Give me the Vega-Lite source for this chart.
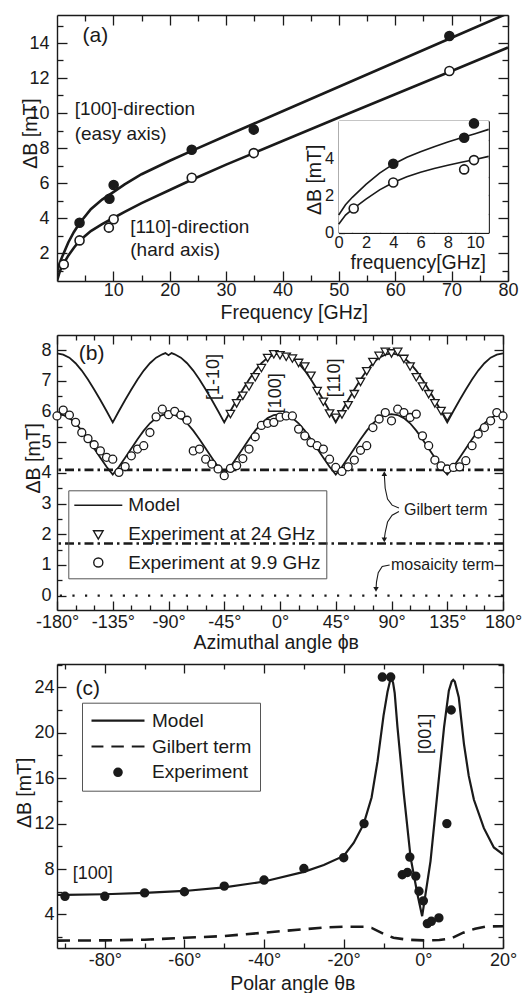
{
  "$schema": "https://vega.github.io/schema/vega-lite/v6.json",
  "padding": {"left": 14, "top": 14, "right": 0, "bottom": 0},
  "spacing": 11,
  "resolve": {"scale": {"shape": "independent", "fill": "independent"}, "legend": {"shape": "independent", "fill": "independent"}},
  "config": {
    "view": {"stroke": null},
    "font": "Liberation Sans",
    "axis": {"grid": false, "domainColor": "#1a1a1a", "domainWidth": 1.4, "tickColor": "#1a1a1a", "tickWidth": 1.3, "labelFont": "Liberation Sans", "labelFontSize": 18, "labelColor": "#1a1a1a", "labelFlush": false, "labelOverlap": false, "titleFont": "Liberation Sans", "titleFontSize": 19.5, "titleFontWeight": "normal", "titleColor": "#1a1a1a", "titleBaseline": "middle"},
    "legend": {"labelFont": "Liberation Sans", "labelFontSize": 19, "labelColor": "#1a1a1a", "strokeColor": "#555555", "labelLimit": 400},
    "text": {"font": "Liberation Sans", "color": "#1a1a1a"}
  },
  "datasets": {
    "curvesA": [
      {"f": 0, "u": 0.9, "l": 0.4}, {"f": 0.5, "u": 1.45, "l": 0.95}, {"f": 1, "u": 1.85, "l": 1.3}, {"f": 2, "u": 2.6, "l": 1.85},
      {"f": 3, "u": 3.2, "l": 2.3}, {"f": 4, "u": 3.7, "l": 2.7}, {"f": 6, "u": 4.5, "l": 3.25}, {"f": 8, "u": 5.05, "l": 3.65},
      {"f": 10, "u": 5.48, "l": 4.0}, {"f": 12, "u": 5.92, "l": 4.35}, {"f": 15, "u": 6.5, "l": 4.85}, {"f": 20, "u": 7.27, "l": 5.6},
      {"f": 24, "u": 7.85, "l": 6.2}, {"f": 30, "u": 8.7, "l": 7.05}, {"f": 35, "u": 9.4, "l": 7.72}, {"f": 40, "u": 10.1, "l": 8.4},
      {"f": 50, "u": 11.5, "l": 9.74}, {"f": 60, "u": 12.9, "l": 11.07}, {"f": 70, "u": 14.3, "l": 12.4}, {"f": 80, "u": 15.7, "l": 13.74}
    ],
    "ptsA": [
      {"f": 4.0, "dB": 3.73, "k": "filled"}, {"f": 9.3, "dB": 5.1, "k": "filled"}, {"f": 10.05, "dB": 5.89, "k": "filled"},
      {"f": 23.9, "dB": 7.9, "k": "filled"}, {"f": 34.9, "dB": 9.05, "k": "filled"}, {"f": 69.6, "dB": 14.4, "k": "filled"},
      {"f": 1.2, "dB": 1.35, "k": "open"}, {"f": 4.0, "dB": 2.72, "k": "open"}, {"f": 9.2, "dB": 3.45, "k": "open"},
      {"f": 10.05, "dB": 3.93, "k": "open"}, {"f": 23.9, "dB": 6.3, "k": "open"}, {"f": 34.9, "dB": 7.71, "k": "open"}, {"f": 69.6, "dB": 12.4, "k": "open"}
    ],
    "insetCurves": [
      {"f": 0, "u": 0.95, "l": 0.45}, {"f": 0.5, "u": 1.5, "l": 0.95}, {"f": 1, "u": 1.9, "l": 1.25}, {"f": 2, "u": 2.6, "l": 1.8},
      {"f": 3, "u": 3.2, "l": 2.3}, {"f": 4, "u": 3.68, "l": 2.7}, {"f": 5, "u": 4.05, "l": 3.0}, {"f": 6, "u": 4.35, "l": 3.25},
      {"f": 7, "u": 4.62, "l": 3.45}, {"f": 8, "u": 4.87, "l": 3.62}, {"f": 9, "u": 5.1, "l": 3.78}, {"f": 10, "u": 5.32, "l": 3.93}, {"f": 11, "u": 5.55, "l": 4.1}
    ],
    "insetPts": [
      {"f": 4.0, "dB": 3.7, "k": "filled"}, {"f": 9.2, "dB": 5.1, "k": "filled"}, {"f": 9.92, "dB": 5.87, "k": "filled"},
      {"f": 1.1, "dB": 1.3, "k": "open"}, {"f": 4.0, "dB": 2.7, "k": "open"}, {"f": 9.2, "dB": 3.4, "k": "open"}, {"f": 9.92, "dB": 3.9, "k": "open"}
    ],
    "modelB": [
      {"p": -180, "u": 7.9, "l": 5.92}, {"p": -175, "u": 7.86, "l": 5.89}, {"p": -170, "u": 7.76, "l": 5.79}, {"p": -165, "u": 7.58, "l": 5.62},
      {"p": -160, "u": 7.34, "l": 5.38}, {"p": -155, "u": 7.05, "l": 5.1}, {"p": -150, "u": 6.72, "l": 4.8}, {"p": -145, "u": 6.38, "l": 4.5},
      {"p": -140, "u": 6.02, "l": 4.2}, {"p": -135, "u": 5.65, "l": 3.95}, {"p": -130, "u": 6.02, "l": 4.2}, {"p": -125, "u": 6.38, "l": 4.5},
      {"p": -120, "u": 6.72, "l": 4.8}, {"p": -115, "u": 7.05, "l": 5.1}, {"p": -110, "u": 7.34, "l": 5.38}, {"p": -105, "u": 7.58, "l": 5.62},
      {"p": -100, "u": 7.76, "l": 5.79}, {"p": -95, "u": 7.87, "l": 5.89}, {"p": -92.5, "u": 7.91, "l": 5.91}, {"p": -90, "u": 7.84, "l": 5.92},
      {"p": -87.5, "u": 7.91, "l": 5.91}, {"p": -85, "u": 7.87, "l": 5.89}, {"p": -80, "u": 7.76, "l": 5.79}, {"p": -75, "u": 7.58, "l": 5.62},
      {"p": -70, "u": 7.34, "l": 5.38}, {"p": -65, "u": 7.05, "l": 5.1}, {"p": -60, "u": 6.72, "l": 4.8}, {"p": -55, "u": 6.38, "l": 4.5},
      {"p": -50, "u": 6.02, "l": 4.2}, {"p": -45, "u": 5.65, "l": 3.95}, {"p": -40, "u": 6.02, "l": 4.2}, {"p": -35, "u": 6.38, "l": 4.5},
      {"p": -30, "u": 6.72, "l": 4.8}, {"p": -25, "u": 7.05, "l": 5.1}, {"p": -20, "u": 7.34, "l": 5.38}, {"p": -15, "u": 7.58, "l": 5.62},
      {"p": -10, "u": 7.76, "l": 5.79}, {"p": -5, "u": 7.86, "l": 5.89}, {"p": 0, "u": 7.9, "l": 5.92}, {"p": 5, "u": 7.86, "l": 5.89},
      {"p": 10, "u": 7.76, "l": 5.79}, {"p": 15, "u": 7.58, "l": 5.62}, {"p": 20, "u": 7.34, "l": 5.38}, {"p": 25, "u": 7.05, "l": 5.1},
      {"p": 30, "u": 6.72, "l": 4.8}, {"p": 35, "u": 6.38, "l": 4.5}, {"p": 40, "u": 6.02, "l": 4.2}, {"p": 45, "u": 5.65, "l": 3.95},
      {"p": 50, "u": 6.02, "l": 4.2}, {"p": 55, "u": 6.38, "l": 4.5}, {"p": 60, "u": 6.72, "l": 4.8}, {"p": 65, "u": 7.05, "l": 5.1},
      {"p": 70, "u": 7.34, "l": 5.38}, {"p": 75, "u": 7.58, "l": 5.62}, {"p": 80, "u": 7.76, "l": 5.79}, {"p": 85, "u": 7.86, "l": 5.89},
      {"p": 90, "u": 7.9, "l": 5.92}, {"p": 95, "u": 7.86, "l": 5.89}, {"p": 100, "u": 7.76, "l": 5.79}, {"p": 105, "u": 7.58, "l": 5.62},
      {"p": 110, "u": 7.34, "l": 5.38}, {"p": 115, "u": 7.05, "l": 5.1}, {"p": 120, "u": 6.72, "l": 4.8}, {"p": 125, "u": 6.38, "l": 4.5},
      {"p": 130, "u": 6.02, "l": 4.2}, {"p": 135, "u": 5.65, "l": 3.95}, {"p": 140, "u": 6.02, "l": 4.2}, {"p": 145, "u": 6.38, "l": 4.5},
      {"p": 150, "u": 6.72, "l": 4.8}, {"p": 155, "u": 7.05, "l": 5.1}, {"p": 160, "u": 7.34, "l": 5.38}, {"p": 165, "u": 7.58, "l": 5.62},
      {"p": 170, "u": 7.76, "l": 5.79}, {"p": 175, "u": 7.86, "l": 5.89}, {"p": 180, "u": 7.9, "l": 5.92}
    ],
    "expB": [
      {"p": -40, "v": 5.95, "s": "24"}, {"p": -35, "v": 6.3, "s": "24"}, {"p": -30, "v": 6.55, "s": "24"}, {"p": -25, "v": 6.85, "s": "24"},
      {"p": -20, "v": 7.15, "s": "24"}, {"p": -15, "v": 7.45, "s": "24"}, {"p": -10, "v": 7.78, "s": "24"}, {"p": -5, "v": 7.9, "s": "24"},
      {"p": 0, "v": 7.87, "s": "24"}, {"p": 5, "v": 7.82, "s": "24"}, {"p": 10, "v": 7.76, "s": "24"}, {"p": 15, "v": 7.62, "s": "24"},
      {"p": 20, "v": 7.5, "s": "24"}, {"p": 25, "v": 7.2, "s": "24"}, {"p": 30, "v": 6.7, "s": "24"}, {"p": 35, "v": 6.35, "s": "24"},
      {"p": 40, "v": 5.97, "s": "24"}, {"p": 45, "v": 5.83, "s": "24"}, {"p": 50, "v": 5.94, "s": "24"}, {"p": 55, "v": 6.24, "s": "24"},
      {"p": 60, "v": 6.6, "s": "24"}, {"p": 65, "v": 7.0, "s": "24"}, {"p": 70, "v": 7.35, "s": "24"}, {"p": 75, "v": 7.65, "s": "24"},
      {"p": 80, "v": 7.85, "s": "24"}, {"p": 85, "v": 7.98, "s": "24"}, {"p": 90, "v": 7.93, "s": "24"}, {"p": 95, "v": 7.98, "s": "24"},
      {"p": 100, "v": 7.75, "s": "24"}, {"p": 105, "v": 7.5, "s": "24"}, {"p": 110, "v": 7.15, "s": "24"}, {"p": 115, "v": 6.85, "s": "24"},
      {"p": 120, "v": 6.6, "s": "24"}, {"p": 125, "v": 6.3, "s": "24"}, {"p": 130, "v": 6.05, "s": "24"}, {"p": 135, "v": 5.86, "s": "24"},
      {"p": -180, "v": 5.86, "s": "9.9"}, {"p": -175, "v": 6.05, "s": "9.9"}, {"p": -170, "v": 5.89, "s": "9.9"}, {"p": -165, "v": 5.65, "s": "9.9"},
      {"p": -160, "v": 5.32, "s": "9.9"}, {"p": -155, "v": 5.12, "s": "9.9"}, {"p": -150, "v": 4.92, "s": "9.9"}, {"p": -145, "v": 4.72, "s": "9.9"},
      {"p": -140, "v": 4.51, "s": "9.9"}, {"p": -135, "v": 4.45, "s": "9.9"}, {"p": -130, "v": 4.02, "s": "9.9"}, {"p": -125, "v": 4.21, "s": "9.9"},
      {"p": -120, "v": 4.56, "s": "9.9"}, {"p": -115, "v": 4.78, "s": "9.9"}, {"p": -110, "v": 4.89, "s": "9.9"}, {"p": -105, "v": 5.32, "s": "9.9"},
      {"p": -100, "v": 5.83, "s": "9.9"}, {"p": -95, "v": 6.08, "s": "9.9"}, {"p": -90, "v": 5.9, "s": "9.9"}, {"p": -85, "v": 6.01, "s": "9.9"},
      {"p": -80, "v": 5.89, "s": "9.9"}, {"p": -75, "v": 5.72, "s": "9.9"}, {"p": -70, "v": 4.72, "s": "9.9"}, {"p": -65, "v": 4.78, "s": "9.9"},
      {"p": -60, "v": 4.45, "s": "9.9"}, {"p": -55, "v": 4.29, "s": "9.9"}, {"p": -50, "v": 4.13, "s": "9.9"}, {"p": -45, "v": 3.91, "s": "9.9"},
      {"p": -40, "v": 4.15, "s": "9.9"}, {"p": -35, "v": 4.24, "s": "9.9"}, {"p": -30, "v": 4.47, "s": "9.9"}, {"p": -25, "v": 4.78, "s": "9.9"},
      {"p": -20, "v": 5.18, "s": "9.9"}, {"p": -15, "v": 5.55, "s": "9.9"}, {"p": -10, "v": 5.62, "s": "9.9"}, {"p": -5, "v": 5.65, "s": "9.9"},
      {"p": 0, "v": 5.82, "s": "9.9"}, {"p": 5, "v": 5.86, "s": "9.9"}, {"p": 10, "v": 5.86, "s": "9.9"}, {"p": 15, "v": 5.43, "s": "9.9"},
      {"p": 20, "v": 5.21, "s": "9.9"}, {"p": 25, "v": 4.99, "s": "9.9"}, {"p": 30, "v": 4.89, "s": "9.9"}, {"p": 35, "v": 4.78, "s": "9.9"},
      {"p": 40, "v": 4.45, "s": "9.9"}, {"p": 45, "v": 4.18, "s": "9.9"}, {"p": 50, "v": 4.05, "s": "9.9"}, {"p": 55, "v": 4.2, "s": "9.9"},
      {"p": 60, "v": 4.42, "s": "9.9"}, {"p": 65, "v": 4.74, "s": "9.9"}, {"p": 70, "v": 4.89, "s": "9.9"}, {"p": 75, "v": 5.48, "s": "9.9"},
      {"p": 80, "v": 5.76, "s": "9.9"}, {"p": 85, "v": 5.97, "s": "9.9"}, {"p": 90, "v": 5.7, "s": "9.9"}, {"p": 95, "v": 6.08, "s": "9.9"},
      {"p": 100, "v": 5.97, "s": "9.9"}, {"p": 105, "v": 5.81, "s": "9.9"}, {"p": 110, "v": 5.92, "s": "9.9"}, {"p": 115, "v": 5.21, "s": "9.9"},
      {"p": 120, "v": 4.89, "s": "9.9"}, {"p": 125, "v": 4.42, "s": "9.9"}, {"p": 130, "v": 4.23, "s": "9.9"}, {"p": 135, "v": 4.13, "s": "9.9"},
      {"p": 140, "v": 4.18, "s": "9.9"}, {"p": 145, "v": 4.2, "s": "9.9"}, {"p": 150, "v": 4.4, "s": "9.9"}, {"p": 155, "v": 4.89, "s": "9.9"},
      {"p": 160, "v": 5.27, "s": "9.9"}, {"p": 165, "v": 5.48, "s": "9.9"}, {"p": 170, "v": 5.7, "s": "9.9"}, {"p": 175, "v": 5.97, "s": "9.9"},
      {"p": 180, "v": 5.86, "s": "9.9"}
    ],
    "arrowsB": [
      {"a": 1, "p": 96, "v": 2.86}, {"a": 1, "p": 90.5, "v": 2.95}, {"a": 1, "p": 86.8, "v": 3.15}, {"a": 1, "p": 84.9, "v": 3.5}, {"a": 1, "p": 84.2, "v": 3.95},
      {"a": 2, "p": 96, "v": 2.74}, {"a": 2, "p": 90.5, "v": 2.62}, {"a": 2, "p": 86.8, "v": 2.4}, {"a": 2, "p": 84.9, "v": 2.05}, {"a": 2, "p": 84.2, "v": 1.85},
      {"a": 3, "p": 88.5, "v": 1.0}, {"a": 3, "p": 82.5, "v": 0.95}, {"a": 3, "p": 79.3, "v": 0.75}, {"a": 3, "p": 77.9, "v": 0.45}, {"a": 3, "p": 77.5, "v": 0.22}
    ],
    "modelC": [
      {"t": -92, "v": 5.72, "s": "m"}, {"t": -90, "v": 5.72, "s": "m"}, {"t": -80, "v": 5.78, "s": "m"}, {"t": -70, "v": 5.9, "s": "m"},
      {"t": -60, "v": 6.07, "s": "m"}, {"t": -50, "v": 6.38, "s": "m"}, {"t": -40, "v": 6.9, "s": "m"}, {"t": -30, "v": 7.75, "s": "m"},
      {"t": -25, "v": 8.35, "s": "m"}, {"t": -20, "v": 9.15, "s": "m"}, {"t": -17.5, "v": 10.3, "s": "m"}, {"t": -15, "v": 11.95, "s": "m"},
      {"t": -13, "v": 14.3, "s": "m"}, {"t": -11.5, "v": 17.5, "s": "m"}, {"t": -10, "v": 21.5, "s": "m"}, {"t": -9, "v": 23.6, "s": "m"},
      {"t": -8.4, "v": 24.5, "s": "m"}, {"t": -8, "v": 24.75, "s": "m"}, {"t": -7.6, "v": 24.4, "s": "m"}, {"t": -7.2, "v": 23.5, "s": "m"},
      {"t": -6.5, "v": 20.5, "s": "m"}, {"t": -4.9, "v": 14.6, "s": "m"}, {"t": -3.2, "v": 9.0, "s": "m"}, {"t": -1.5, "v": 5.8, "s": "m"},
      {"t": -0.3, "v": 3.85, "s": "m"}, {"t": 1.8, "v": 8.7, "s": "m"}, {"t": 3.5, "v": 14.6, "s": "m"}, {"t": 5.2, "v": 20.5, "s": "m"},
      {"t": 6.4, "v": 23.7, "s": "m"}, {"t": 7.1, "v": 24.5, "s": "m"}, {"t": 7.5, "v": 24.65, "s": "m"}, {"t": 7.9, "v": 24.5, "s": "m"},
      {"t": 8.9, "v": 23.1, "s": "m"}, {"t": 10.2, "v": 19.0, "s": "m"}, {"t": 11.4, "v": 16.2, "s": "m"}, {"t": 12.7, "v": 14.1, "s": "m"},
      {"t": 15.2, "v": 11.6, "s": "m"}, {"t": 17.7, "v": 9.9, "s": "m"}, {"t": 20, "v": 9.3, "s": "m"},
      {"t": -92, "v": 1.7, "s": "g"}, {"t": -80, "v": 1.72, "s": "g"}, {"t": -70, "v": 1.78, "s": "g"}, {"t": -60, "v": 1.95, "s": "g"},
      {"t": -50, "v": 2.1, "s": "g"}, {"t": -40, "v": 2.4, "s": "g"}, {"t": -30, "v": 2.7, "s": "g"}, {"t": -25, "v": 2.85, "s": "g"},
      {"t": -20, "v": 2.92, "s": "g"}, {"t": -15, "v": 2.92, "s": "g"}, {"t": -13, "v": 2.82, "s": "g"}, {"t": -10, "v": 2.3, "s": "g"},
      {"t": -7.5, "v": 1.95, "s": "g"}, {"t": -4, "v": 1.78, "s": "g"}, {"t": 0, "v": 1.72, "s": "g"}, {"t": 4, "v": 1.75, "s": "g"},
      {"t": 7, "v": 1.9, "s": "g"}, {"t": 10, "v": 2.4, "s": "g"}, {"t": 13, "v": 2.75, "s": "g"}, {"t": 16, "v": 2.95, "s": "g"}, {"t": 20, "v": 2.97, "s": "g"}
    ],
    "expC": [
      {"t": -90, "v": 5.6, "c": "Experiment"}, {"t": -80, "v": 5.6, "c": "Experiment"}, {"t": -70, "v": 5.9, "c": "Experiment"},
      {"t": -60, "v": 6.0, "c": "Experiment"}, {"t": -50, "v": 6.5, "c": "Experiment"}, {"t": -40, "v": 7.03, "c": "Experiment"},
      {"t": -30, "v": 8.05, "c": "Experiment"}, {"t": -20, "v": 9.0, "c": "Experiment"}, {"t": -14.9, "v": 12.0, "c": "Experiment"},
      {"t": -10.3, "v": 24.9, "c": "Experiment"}, {"t": -8.2, "v": 24.9, "c": "Experiment"}, {"t": -5.3, "v": 7.5, "c": "Experiment"},
      {"t": -4.0, "v": 7.7, "c": "Experiment"}, {"t": -3.4, "v": 9.05, "c": "Experiment"}, {"t": -1.9, "v": 7.38, "c": "Experiment"},
      {"t": -1.1, "v": 6.05, "c": "Experiment"}, {"t": 0, "v": 5.2, "c": "Experiment"}, {"t": 1.0, "v": 3.2, "c": "Experiment"},
      {"t": 2.0, "v": 3.4, "c": "Experiment"}, {"t": 3.9, "v": 3.7, "c": "Experiment"}, {"t": 5.9, "v": 12.0, "c": "Experiment"},
      {"t": 7.0, "v": 22.0, "c": "Experiment"}
    ]
  },
  "vconcat": [
    {
      "width": 451,
      "height": 266,
      "layer": [
        {
          "layer": [
            {
              "data": {"name": "curvesA"},
              "transform": [{"fold": ["u", "l"], "as": ["s", "dB"]}],
              "mark": {"type": "line", "color": "#1a1a1a", "strokeWidth": 2.6, "clip": true},
              "encoding": {
                "x": {"field": "f", "type": "quantitative", "scale": {"domain": [0, 80], "nice": false, "zero": false},
                  "axis": {"orient": "bottom", "values": [10, 20, 30, 40, 50, 60, 70, 80], "tickSize": -10, "labelPadding": 10, "title": "Frequency [GHz]", "titleX": 236.7, "titleY": 31.7}},
                "y": {"field": "dB", "type": "quantitative", "scale": {"domain": [0.4, 15.6], "nice": false, "zero": false},
                  "axis": {"orient": "left", "values": [2, 4, 6, 8, 10, 12, 14], "tickSize": -10, "labelPadding": 18, "title": "ΔB [mT]", "titleX": -27, "titleY": 118}},
                "detail": {"field": "s"}
              }
            },
            {
              "data": {"name": "ptsA"},
              "mark": {"type": "point", "shape": "circle", "filled": true, "size": 81, "opacity": 1, "stroke": "#1a1a1a", "strokeWidth": 1.6},
              "encoding": {
                "x": {"field": "f", "type": "quantitative", "axis": null},
                "y": {"field": "dB", "type": "quantitative", "axis": null},
                "fill": {"field": "k", "type": "nominal", "scale": {"domain": ["filled", "open"], "range": ["#1a1a1a", "#ffffff"]}, "legend": null}
              }
            },
            {"data": {"values": [{}]}, "mark": {"type": "text", "text": "(a)", "fontSize": 21, "align": "center", "baseline": "middle"},
              "encoding": {"x": {"datum": 6.8, "type": "quantitative", "axis": null}, "y": {"datum": 14.4, "type": "quantitative", "axis": null}}},
            {"data": {"values": [{}]}, "mark": {"type": "text", "text": "[100]-direction", "fontSize": 19, "align": "left", "baseline": "middle"},
              "encoding": {"x": {"datum": 3.14, "type": "quantitative", "axis": null}, "y": {"datum": 10.23, "type": "quantitative", "axis": null}}},
            {"data": {"values": [{}]}, "mark": {"type": "text", "text": "(easy axis)", "fontSize": 19, "align": "left", "baseline": "middle"},
              "encoding": {"x": {"datum": 3.14, "type": "quantitative", "axis": null}, "y": {"datum": 8.82, "type": "quantitative", "axis": null}}},
            {"data": {"values": [{}]}, "mark": {"type": "text", "text": "[110]-direction", "fontSize": 19, "align": "left", "baseline": "middle"},
              "encoding": {"x": {"datum": 13.0, "type": "quantitative", "axis": null}, "y": {"datum": 3.49, "type": "quantitative", "axis": null}}},
            {"data": {"values": [{}]}, "mark": {"type": "text", "text": "(hard axis)", "fontSize": 19, "align": "left", "baseline": "middle"},
              "encoding": {"x": {"datum": 13.0, "type": "quantitative", "axis": null}, "y": {"datum": 2.16, "type": "quantitative", "axis": null}}},
            {
              "data": {"values": []},
              "mark": "point",
              "encoding": {
                "x": {"field": "f", "type": "quantitative", "axis": {"orient": "top", "values": [10, 20, 30, 40, 50, 60, 70, 80], "tickSize": -10, "labels": false, "title": null}},
                "y": {"field": "dB", "type": "quantitative", "axis": {"orient": "right", "values": [2, 4, 6, 8, 10, 12, 14], "tickSize": -10, "labels": false, "title": null}}
              }
            },
            {
              "data": {"values": []},
              "mark": "point",
              "encoding": {
                "x": {"field": "f", "type": "quantitative", "axis": {"orient": "bottom", "values": [5, 15, 25, 35, 45, 55, 65, 75], "tickSize": -6, "labels": false, "domain": false, "title": null}},
                "y": {"field": "dB", "type": "quantitative", "axis": {"orient": "left", "values": [1, 3, 5, 7, 9, 11, 13, 15], "tickSize": -6, "labels": false, "domain": false, "title": null}}
              }
            },
            {
              "data": {"values": []},
              "mark": "point",
              "encoding": {
                "x": {"field": "f", "type": "quantitative", "axis": {"orient": "top", "values": [5, 15, 25, 35, 45, 55, 65, 75], "tickSize": -6, "labels": false, "domain": false, "title": null}},
                "y": {"field": "dB", "type": "quantitative", "axis": {"orient": "right", "values": [1, 3, 5, 7, 9, 11, 13, 15], "tickSize": -6, "labels": false, "domain": false, "title": null}}
              }
            }
          ],
          "resolve": {"axis": {"x": "independent", "y": "independent"}}
        },
        {
          "layer": [
            {"data": {"values": [{}]}, "mark": {"type": "rect", "fill": "#ffffff"},
              "encoding": {
                "x": {"datum": 0, "type": "quantitative", "axis": null, "scale": {"domain": [0, 11], "range": [281.7, 431.7], "nice": false, "zero": false}},
                "x2": {"datum": 11},
                "y": {"datum": 0, "type": "quantitative", "axis": null, "scale": {"domain": [0, 6], "range": [217.7, 106], "nice": false, "zero": false}},
                "y2": {"datum": 6}
              }},
            {
              "data": {"name": "insetCurves"},
              "transform": [{"fold": ["u", "l"], "as": ["s", "dB"]}],
              "mark": {"type": "line", "color": "#1a1a1a", "strokeWidth": 1.6, "clip": false},
              "encoding": {
                "x": {"field": "f", "type": "quantitative",
                  "axis": {"orient": "bottom", "offset": -48.3, "values": [0, 2, 4, 6, 8, 10], "tickSize": -6, "labelPadding": 7.5, "labelFontSize": 16.5, "title": "frequency[GHz]", "titleX": 360.8, "titleY": 30}},
                "y": {"field": "dB", "type": "quantitative",
                  "axis": {"orient": "left", "offset": -281.7, "values": [0, 2, 4], "tickSize": -6, "labelPadding": 11, "labelFontSize": 16.5, "title": "ΔB [mT]", "titleX": -24.2, "titleY": 164.3}},
                "detail": {"field": "s"}
              }
            },
            {
              "data": {"name": "insetPts"},
              "mark": {"type": "point", "shape": "circle", "filled": true, "size": 81, "opacity": 1, "stroke": "#1a1a1a", "strokeWidth": 1.6},
              "encoding": {
                "x": {"field": "f", "type": "quantitative", "axis": null},
                "y": {"field": "dB", "type": "quantitative", "axis": null},
                "fill": {"field": "k", "type": "nominal", "scale": {"domain": ["filled", "open"], "range": ["#1a1a1a", "#ffffff"]}, "legend": null}
              }
            },
            {
              "data": {"values": []},
              "mark": "point",
              "encoding": {
                "x": {"field": "f", "type": "quantitative", "axis": {"orient": "top", "offset": -106, "values": [2, 4, 6, 8, 10], "tickSize": -6, "labels": false, "title": null}},
                "y": {"field": "dB", "type": "quantitative", "axis": {"orient": "right", "offset": -19.3, "values": [2, 4], "tickSize": -6, "labels": false, "title": null}}
              }
            },
            {
              "data": {"values": []},
              "mark": "point",
              "encoding": {
                "x": {"field": "f", "type": "quantitative", "axis": {"orient": "bottom", "offset": -48.3, "values": [1, 3, 5, 7, 9], "tickSize": -4, "labels": false, "domain": false, "title": null}},
                "y": {"field": "dB", "type": "quantitative", "axis": {"orient": "left", "offset": -281.7, "values": [1, 3, 5], "tickSize": -4, "labels": false, "domain": false, "title": null}}
              }
            },
            {
              "data": {"values": []},
              "mark": "point",
              "encoding": {
                "x": {"field": "f", "type": "quantitative", "axis": {"orient": "top", "offset": -106, "values": [1, 3, 5, 7, 9], "tickSize": -4, "labels": false, "domain": false, "title": null}},
                "y": {"field": "dB", "type": "quantitative", "axis": {"orient": "right", "offset": -19.3, "values": [1, 3, 5], "tickSize": -4, "labels": false, "domain": false, "title": null}}
              }
            }
          ],
          "resolve": {"axis": {"x": "independent", "y": "independent"}}
        }
      ],
      "resolve": {"scale": {"x": "independent", "y": "independent"}, "axis": {"x": "independent", "y": "independent"}}
    },
    {
      "width": 446,
      "height": 275,
      "layer": [
        {
          "data": {"name": "modelB"},
          "transform": [{"fold": ["u", "l"], "as": ["s", "v"]}],
          "mark": {"type": "line", "color": "#1a1a1a", "strokeWidth": 1.8},
          "encoding": {
            "x": {"field": "p", "type": "quantitative", "scale": {"domain": [-180, 180], "nice": false, "zero": false},
              "axis": {"orient": "bottom", "values": [-180, -135, -90, -45, 0, 45, 90, 135, 180], "labelExpr": "datum.value + '°'", "tickSize": -9, "labelPadding": 12.5, "title": "Azimuthal angle ϕʙ", "titleX": 218.7, "titleY": 32.4}},
            "y": {"field": "v", "type": "quantitative", "scale": {"domain": [-0.47, 8.5], "nice": false, "zero": false},
              "axis": {"orient": "left", "values": [0, 1, 2, 3, 4, 5, 6, 7, 8], "tickSize": -9, "labelPadding": 15, "title": "ΔB [mT]", "titleX": -23.5, "titleY": 122.7}},
            "detail": {"field": "s"}
          }
        },
        {"data": {"values": [{}]}, "mark": {"type": "rule", "color": "#1a1a1a", "strokeWidth": 2.6, "strokeDash": [9, 4, 2.5, 4]},
          "encoding": {"y": {"datum": 4.1, "type": "quantitative", "axis": null}}},
        {"data": {"values": [{}]}, "mark": {"type": "rule", "color": "#1a1a1a", "strokeWidth": 2.6, "strokeDash": [9, 4, 2.5, 4]},
          "encoding": {"y": {"datum": 1.7, "type": "quantitative", "axis": null}}},
        {"data": {"values": [{}]}, "mark": {"type": "rule", "color": "#1a1a1a", "strokeWidth": 2.2, "strokeDash": [2.2, 10.4]},
          "encoding": {"y": {"datum": 0, "type": "quantitative", "axis": null}}},
        {
          "data": {"name": "expB"},
          "mark": {"type": "point", "filled": false, "color": "#1a1a1a", "fill": "#ffffff", "stroke": "#1a1a1a", "strokeWidth": 1.3, "size": 1764, "opacity": 1},
          "encoding": {
            "x": {"field": "p", "type": "quantitative", "axis": null},
            "y": {"field": "v", "type": "quantitative", "axis": null},
            "shape": {"field": "s", "type": "nominal",
              "scale": {"domain": ["Model", "24", "9.9"], "range": ["M-1,0H1", "M-0.2,-0.13H0.2L0,0.22Z", "M-0.19,0A0.19,0.19,0,1,0,0.19,0A0.19,0.19,0,1,0,-0.19,0Z"]},
              "legend": {"title": null, "orient": "none", "legendX": 11.3, "legendY": 155.3, "symbolSize": 2304, "symbolStrokeWidth": 1.4, "clipHeight": 20, "rowPadding": 8.6, "labelOffset": 5, "padding": 5, "strokeColor": "#555555", "labelFontSize": 19, "labelLimit": 400,
                "labelExpr": "datum.label == '24' ? 'Experiment at 24  GHz' : (datum.label == '9.9' ? 'Experiment at 9.9 GHz' : datum.label)",
                "encode": {"symbols": {"stroke": {"value": "#1a1a1a"}, "strokeWidth": {"value": 1.4}, "fill": {"value": "#ffffff"}}}}}
          }
        },
        {
          "data": {"name": "arrowsB"},
          "mark": {"type": "line", "color": "#1a1a1a", "strokeWidth": 1.1},
          "encoding": {
            "x": {"field": "p", "type": "quantitative", "axis": null},
            "y": {"field": "v", "type": "quantitative", "axis": null},
            "detail": {"field": "a"}
          }
        },
        {"data": {"values": [{}]}, "mark": {"type": "point", "shape": "triangle-up", "filled": true, "color": "#1a1a1a", "size": 30, "opacity": 1},
          "encoding": {"x": {"datum": 84.2, "type": "quantitative", "axis": null}, "y": {"datum": 3.98, "type": "quantitative", "axis": null}}},
        {"data": {"values": [{}]}, "mark": {"type": "point", "shape": "triangle-down", "filled": true, "color": "#1a1a1a", "size": 30, "opacity": 1},
          "encoding": {"x": {"datum": 84.2, "type": "quantitative", "axis": null}, "y": {"datum": 1.82, "type": "quantitative", "axis": null}}},
        {"data": {"values": [{}]}, "mark": {"type": "point", "shape": "triangle-down", "filled": true, "color": "#1a1a1a", "size": 30, "opacity": 1},
          "encoding": {"x": {"datum": 77.5, "type": "quantitative", "axis": null}, "y": {"datum": 0.2, "type": "quantitative", "axis": null}}},
        {"data": {"values": [{}]}, "mark": {"type": "text", "text": "(b)", "fontSize": 21, "align": "center", "baseline": "middle"},
          "encoding": {"x": {"datum": -152, "type": "quantitative", "axis": null}, "y": {"datum": 7.87, "type": "quantitative", "axis": null}}},
        {"data": {"values": [{}]}, "mark": {"type": "text", "text": "[1-10]", "fontSize": 18, "angle": 270, "align": "center", "baseline": "middle"},
          "encoding": {"x": {"datum": -53, "type": "quantitative", "axis": null}, "y": {"datum": 7.13, "type": "quantitative", "axis": null}}},
        {"data": {"values": [{}]}, "mark": {"type": "text", "text": "[100]", "fontSize": 18, "angle": 270, "align": "center", "baseline": "middle"},
          "encoding": {"x": {"datum": -3.2, "type": "quantitative", "axis": null}, "y": {"datum": 6.6, "type": "quantitative", "axis": null}}},
        {"data": {"values": [{}]}, "mark": {"type": "text", "text": "[110]", "fontSize": 18, "angle": 270, "align": "center", "baseline": "middle"},
          "encoding": {"x": {"datum": 44.4, "type": "quantitative", "axis": null}, "y": {"datum": 7.1, "type": "quantitative", "axis": null}}},
        {"data": {"values": [{}]}, "mark": {"type": "text", "text": "Gilbert term", "fontSize": 16, "align": "left", "baseline": "middle"},
          "encoding": {"x": {"datum": 100.1, "type": "quantitative", "axis": null}, "y": {"datum": 2.8, "type": "quantitative", "axis": null}}},
        {"data": {"values": [{}]}, "mark": {"type": "text", "text": "mosaicity term", "fontSize": 16, "align": "left", "baseline": "middle"},
          "encoding": {"x": {"datum": 89.6, "type": "quantitative", "axis": null}, "y": {"datum": 1.0, "type": "quantitative", "axis": null}}},
        {
          "data": {"values": []},
          "mark": "point",
          "encoding": {
            "x": {"field": "p", "type": "quantitative", "axis": {"orient": "top", "values": [-180, -135, -90, -45, 0, 45, 90, 135, 180], "tickSize": -9, "labels": false, "title": null}},
            "y": {"field": "v", "type": "quantitative", "axis": {"orient": "right", "values": [0, 1, 2, 3, 4, 5, 6, 7, 8], "tickSize": -9, "labels": false, "title": null}}
          }
        },
        {
          "data": {"values": []},
          "mark": "point",
          "encoding": {
            "x": {"field": "p", "type": "quantitative", "axis": {"orient": "bottom", "values": [-165, -150, -120, -105, -75, -60, -30, -15, 15, 30, 60, 75, 105, 120, 150, 165], "tickSize": -5, "labels": false, "domain": false, "title": null}},
            "y": {"field": "v", "type": "quantitative", "axis": {"orient": "left", "values": [0.5, 1.5, 2.5, 3.5, 4.5, 5.5, 6.5, 7.5], "tickSize": -5, "labels": false, "domain": false, "title": null}}
          }
        },
        {
          "data": {"values": []},
          "mark": "point",
          "encoding": {
            "x": {"field": "p", "type": "quantitative", "axis": {"orient": "top", "values": [-165, -150, -120, -105, -75, -60, -30, -15, 15, 30, 60, 75, 105, 120, 150, 165], "tickSize": -5, "labels": false, "domain": false, "title": null}},
            "y": {"field": "v", "type": "quantitative", "axis": {"orient": "right", "values": [0.5, 1.5, 2.5, 3.5, 4.5, 5.5, 6.5, 7.5], "tickSize": -5, "labels": false, "domain": false, "title": null}}
          }
        }
      ],
      "resolve": {"axis": {"x": "independent", "y": "independent"}}
    },
    {
      "width": 446,
      "height": 284,
      "layer": [
        {
          "data": {"name": "modelC"},
          "transform": [{"filter": "datum.s === 'm'"}],
          "mark": {"type": "line", "color": "#1a1a1a", "strokeWidth": 2.2, "clip": true},
          "encoding": {
            "x": {"field": "t", "type": "quantitative", "scale": {"domain": [-92, 20], "nice": false, "zero": false},
              "axis": {"orient": "bottom", "values": [-80, -60, -40, -20, 0, 20], "labelExpr": "datum.value + '°'", "tickSize": -9, "labelPadding": 12.5, "title": "Polar angle θʙ", "titleX": 235.3, "titleY": 35}},
            "y": {"field": "v", "type": "quantitative", "scale": {"domain": [1.05, 26.05], "nice": false, "zero": false},
              "axis": {"orient": "left", "values": [4, 8, 12, 16, 20, 24], "tickSize": -9, "labelPadding": 12, "title": "ΔB [mT]", "titleX": -32.3, "titleY": 128.4}}
          }
        },
        {
          "data": {"name": "modelC"},
          "transform": [{"filter": "datum.s === 'g'"}],
          "mark": {"type": "line", "color": "#1a1a1a", "strokeWidth": 2.6, "strokeDash": [13, 8], "clip": true},
          "encoding": {
            "x": {"field": "t", "type": "quantitative", "axis": null},
            "y": {"field": "v", "type": "quantitative", "axis": null}
          }
        },
        {
          "data": {"name": "expC"},
          "mark": {"type": "point", "filled": true, "color": "#1a1a1a", "stroke": "#1a1a1a", "strokeWidth": 2.2, "size": 2642, "opacity": 1},
          "encoding": {
            "x": {"field": "t", "type": "quantitative", "axis": null},
            "y": {"field": "v", "type": "quantitative", "axis": null},
            "shape": {"field": "c", "type": "nominal",
              "scale": {"domain": ["Model", "Gilbert term", "Experiment"], "range": ["M-1,0H1", "M-1,0H-0.55M-0.25,0H0.22M0.52,0H1", "M-0.14,0A0.14,0.14,0,1,0,0.14,0A0.14,0.14,0,1,0,-0.14,0Z"]},
              "legend": {"title": null, "orient": "none", "legendX": 25, "legendY": 38.7, "symbolSize": 2809, "symbolStrokeWidth": 2.2, "clipHeight": 20, "rowPadding": 5.8, "labelOffset": 6, "padding": 8, "strokeColor": "#555555", "labelFontSize": 19, "labelLimit": 400,
                "encode": {"symbols": {"stroke": {"value": "#1a1a1a"}, "strokeWidth": {"value": 2.2}, "fill": {"value": "#1a1a1a"}}}}}
          }
        },
        {"data": {"values": [{}]}, "mark": {"type": "text", "text": "(c)", "fontSize": 21, "align": "center", "baseline": "middle"},
          "encoding": {"x": {"datum": -84.3, "type": "quantitative", "axis": null}, "y": {"datum": 23.86, "type": "quantitative", "axis": null}}},
        {"data": {"values": [{}]}, "mark": {"type": "text", "text": "[100]", "fontSize": 18, "align": "center", "baseline": "middle"},
          "encoding": {"x": {"datum": -83, "type": "quantitative", "axis": null}, "y": {"datum": 7.58, "type": "quantitative", "axis": null}}},
        {"data": {"values": [{}]}, "mark": {"type": "text", "text": "[001]", "fontSize": 18, "angle": 270, "align": "center", "baseline": "middle"},
          "encoding": {"x": {"datum": 0.6, "type": "quantitative", "axis": null}, "y": {"datum": 19.9, "type": "quantitative", "axis": null}}},
        {
          "data": {"values": []},
          "mark": "point",
          "encoding": {
            "x": {"field": "t", "type": "quantitative", "axis": {"orient": "top", "values": [-80, -60, -40, -20, 0, 20], "tickSize": -9, "labels": false, "title": null}},
            "y": {"field": "v", "type": "quantitative", "axis": {"orient": "right", "values": [4, 8, 12, 16, 20, 24], "tickSize": -9, "labels": false, "title": null}}
          }
        },
        {
          "data": {"values": []},
          "mark": "point",
          "encoding": {
            "x": {"field": "t", "type": "quantitative", "axis": {"orient": "bottom", "values": [-90, -70, -50, -30, -10, 10], "tickSize": -5, "labels": false, "domain": false, "title": null}},
            "y": {"field": "v", "type": "quantitative", "axis": {"orient": "left", "values": [2, 6, 10, 14, 18, 22, 26], "tickSize": -5, "labels": false, "domain": false, "title": null}}
          }
        },
        {
          "data": {"values": []},
          "mark": "point",
          "encoding": {
            "x": {"field": "t", "type": "quantitative", "axis": {"orient": "top", "values": [-90, -70, -50, -30, -10, 10], "tickSize": -5, "labels": false, "domain": false, "title": null}},
            "y": {"field": "v", "type": "quantitative", "axis": {"orient": "right", "values": [2, 6, 10, 14, 18, 22, 26], "tickSize": -5, "labels": false, "domain": false, "title": null}}
          }
        }
      ],
      "resolve": {"axis": {"x": "independent", "y": "independent"}}
    }
  ]
}
